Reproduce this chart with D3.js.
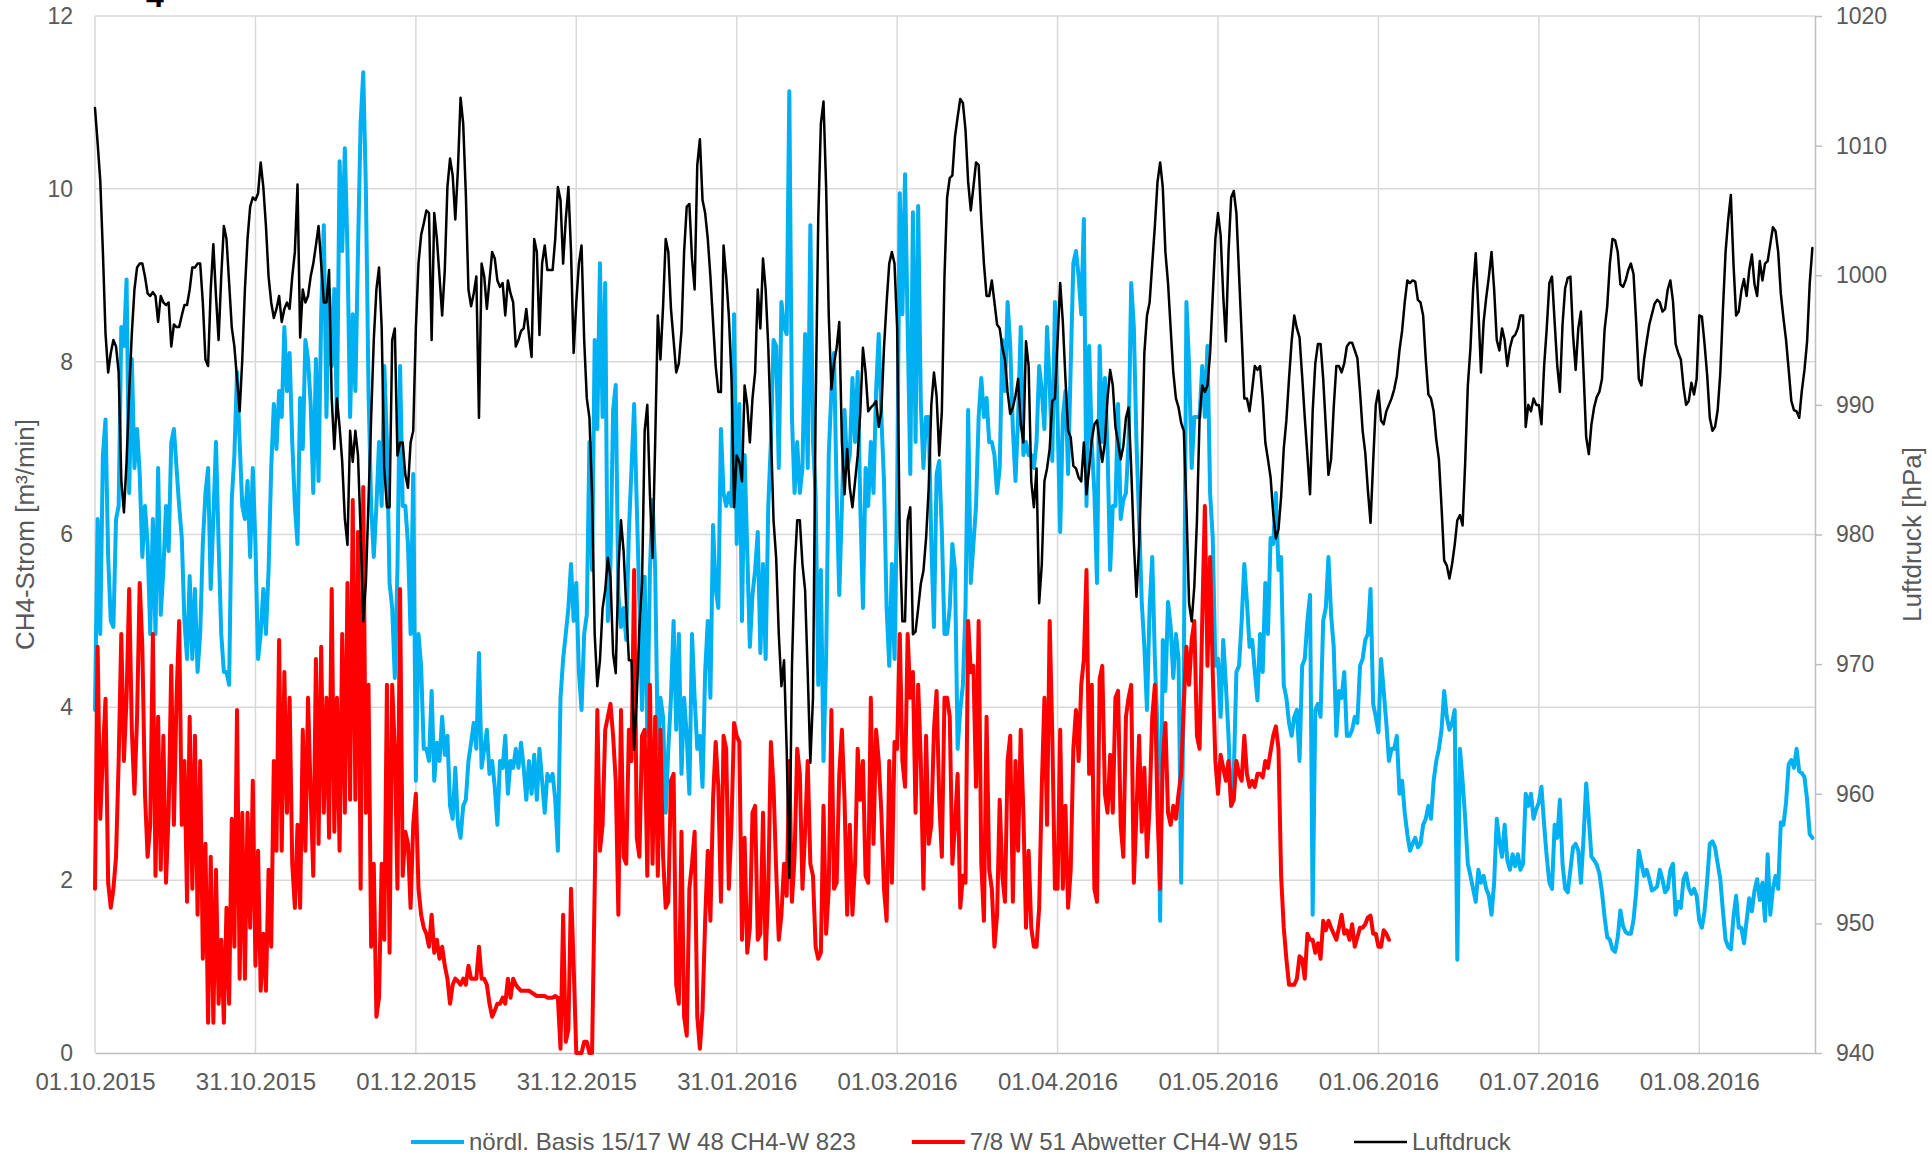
<!DOCTYPE html>
<html>
<head>
<meta charset="utf-8">
<script src="https://cdn.jsdelivr.net/npm/d3@7"></script>
<style>
  html, body { margin: 0; padding: 0; background: #ffffff; }
  svg { display: block; font-family: "Liberation Sans", Arial, Helvetica, sans-serif; }
</style>
</head>
<body>
<svg id="chart" width="1932" height="1154"></svg>
<script>
// ---- Time base: readings every half day starting 01.10.2015 ----
const DAY = 864e5;
const startDate = Date.UTC(2015, 9, 1);
const stepDays = 0.5;
const axisEndDays = 327;

// ---- Axis ticks ----
const xTickLabels = ["01.10.2015", "31.10.2015", "01.12.2015", "31.12.2015", "31.01.2016",
  "01.03.2016", "01.04.2016", "01.05.2016", "01.06.2016", "01.07.2016", "01.08.2016"];
const xTickStepDays = 30.5;
const leftTicks = [0, 2, 4, 6, 8, 10, 12];
const rightTicks = [940, 950, 960, 970, 980, 990, 1000, 1010, 1020];

// ---- Series names / colours ----
const seriesNames = ["nördl. Basis 15/17 W 48 CH4-W 823", "7/8 W 51 Abwetter CH4-W 915", "Luftdruck"];
const seriesColors = ["#00b0f0", "#ff0000", "#000000"];

// ---- CH4 flow, nördl. Basis 15/17 W 48 [m³/min] ----
const blueValues = [
  3.97, 6.18, 4.85, 6.92, 7.33, 5.74, 5.0, 4.93, 6.18, 6.33,
  8.4, 8.18, 8.95, 6.48, 8.03, 6.77, 7.22, 6.7, 5.74, 6.33,
  5.89, 4.85, 6.18, 4.85, 6.77, 5.07, 5.59, 6.33, 5.81, 7.07,
  7.22, 6.77, 6.33, 5.96, 5.0, 4.56, 5.52, 4.56, 5.37, 4.41,
  4.85, 5.9, 6.48, 6.77, 5.37, 6.18, 7.07, 5.89, 4.85, 4.41,
  4.41, 4.26, 6.4, 6.92, 7.88, 7.07, 6.33, 6.18, 6.62, 5.74,
  6.77, 5.89, 4.56, 4.85, 5.37, 4.85, 5.59, 6.77, 7.51, 6.99,
  7.66, 7.36, 8.4, 7.66, 8.1, 7.07, 6.33, 5.89, 7.58, 6.99,
  8.25, 8.03, 7.51, 6.48, 8.03, 6.62, 8.55, 9.58, 7.36, 8.84,
  7.95, 8.84, 7.36, 10.32, 9.28, 10.47, 9.28, 7.36, 8.55, 7.66,
  9.28, 10.76, 11.35, 10.0, 7.66, 6.33, 5.74, 6.33, 7.07, 6.33,
  7.95, 7.07, 5.44,
  5.15, 4.34, 5.59, 7.95, 6.33, 6.33, 5.89, 4.85, 6.7, 3.15,
  4.85, 4.48, 3.52, 3.52, 3.38, 4.19, 3.15, 3.59, 3.38, 3.89,
  3.45, 3.67, 2.86, 2.71, 3.3, 2.64, 2.49, 2.86, 2.93, 3.38,
  3.59, 3.82, 3.52, 4.63, 3.3, 3.52, 3.74, 3.23, 3.38, 3.08,
  2.64, 3.38, 3.3, 3.67, 3.0, 3.38, 3.3, 3.52, 3.3, 3.59,
  3.3, 2.93, 3.38, 3.0, 3.45, 2.93, 3.52, 3.15, 2.78, 3.23,
  3.15, 3.23, 2.93, 2.34, 4.11, 4.56, 4.85, 5.15, 5.66, 5.0,
  5.44, 4.41, 3.97, 4.85, 5.07, 7.07, 5.59, 8.25, 7.22, 9.14,
  7.36, 8.91, 5.0, 5.66, 7.44, 7.73, 5.3, 4.93, 5.15, 4.78,
  6.03, 6.77, 7.51, 6.33, 5.22, 3.97, 5.51, 3.67, 5.59, 6.4,
  5.59, 3.52, 4.11, 3.89, 2.78, 3.52, 4.11, 5.0, 3.74, 4.85,
  3.23, 4.11, 3.67, 3.0, 4.85, 4.11, 3.52, 3.67, 3.08, 4.41,
  5.0, 4.11, 6.11, 5.37, 5.15, 7.22, 6.48, 6.33, 6.48, 6.33,
  8.55, 5.89, 7.51, 5.0, 6.92, 5.81, 4.7, 5.3, 5.59, 6.03,
  4.63, 5.66, 4.56, 6.33, 7.07, 8.25, 8.18, 6.77, 8.69, 8.4,
  8.32, 11.13, 7.36, 6.48, 7.07, 6.48, 6.77, 8.32, 6.77, 9.58,
  7.07, 6.48, 4.26, 5.59, 3.38, 4.56, 6.92, 7.66, 8.1, 6.48,
  5.3, 6.33, 7.44, 6.77, 6.92, 7.81, 7.07, 7.88, 6.33, 5.15,
  6.77, 6.33, 7.07, 6.48, 7.66, 8.32, 7.36, 6.62, 5.15, 4.48,
  5.66, 4.56, 6.48, 9.95, 8.55, 10.17, 8.4, 6.7, 9.73, 7.07,
  9.8, 7.51, 6.77, 7.36, 7.36, 5.89, 4.93, 6.7, 6.85, 6.03,
  4.85, 4.85, 5.15, 5.89, 5.59, 3.52, 3.97, 4.26, 5.15, 7.44,
  5.44, 5.89, 6.33, 7.36, 7.81, 7.36, 7.58, 7.07, 7.07, 6.92,
  6.48, 6.77, 8.25, 7.66, 8.69, 8.18, 7.22, 6.62, 7.36, 8.4,
  6.92, 7.07, 6.92, 6.92, 6.77, 7.07, 7.95, 7.66, 7.22, 8.4,
  7.73, 6.85, 8.69, 7.36, 6.03, 7.36, 7.66, 6.7, 7.95, 9.14,
  9.28, 8.99, 8.55, 9.65, 6.33, 8.18, 7.07, 6.48, 5.44, 8.18,
  7.07, 7.81, 6.99, 5.59, 6.33, 6.33, 7.51, 6.18, 6.4, 6.48,
  7.07, 8.91, 8.4, 7.07, 6.18, 5.22, 4.7, 3.97, 5.15, 5.74,
  4.56, 3.74, 1.53, 4.78, 4.19, 5.22, 4.93, 4.34, 4.85, 4.56,
  1.97, 4.41, 8.69, 7.95, 6.77, 7.36, 7.36, 7.36, 7.95, 7.36,
  8.18, 6.48, 5.96, 4.48, 4.56, 3.89, 4.78, 4.26, 3.67, 2.86,
  3.23, 4.41, 4.48, 5.0, 5.66, 5.22, 4.7, 4.78, 4.41, 4.08,
  4.85, 4.41, 5.44, 4.85, 5.96, 5.89, 6.48, 5.59, 5.74, 4.26,
  4.11, 3.82, 3.67, 3.89, 3.97, 3.38, 4.48, 4.56, 5.0, 5.3,
  1.6, 3.97, 4.04, 3.89, 5.0, 5.15, 5.74, 5.07, 4.7, 3.67,
  4.19, 4.11, 4.41, 3.67, 3.67, 3.74, 3.89, 3.82, 4.48, 4.56,
  4.78, 4.85, 5.37, 4.04, 3.89, 3.71, 4.56, 4.19, 3.82, 3.38,
  3.52, 3.52, 3.67, 3.0, 3.15, 2.78, 2.53, 2.34, 2.42, 2.49,
  2.38, 2.42, 2.64, 2.71, 2.86, 2.71, 3.15, 3.38, 3.52, 3.74,
  4.19, 3.89, 3.74, 3.82, 3.97, 1.08, 3.52, 3.15, 2.71, 2.19,
  2.05, 1.9, 1.75, 2.12, 1.97, 2.05, 1.9, 1.82, 1.6, 1.97,
  2.71, 2.45, 2.27, 2.64, 2.23, 2.12, 2.3, 2.16, 2.3, 2.12,
  2.19, 3.0, 2.86, 3.0, 2.71, 2.82, 2.9, 3.08, 2.64, 2.27,
  1.97, 1.9, 2.64, 2.49, 2.93, 2.19, 1.9, 1.86, 2.12, 2.38,
  2.42, 2.34, 1.97, 2.49, 3.12, 2.71, 2.27, 2.23, 2.18, 2.08,
  1.86, 1.57, 1.34, 1.31, 1.2, 1.17, 1.34, 1.65, 1.47, 1.4,
  1.38, 1.38, 1.54, 1.86, 2.34, 2.19, 2.05, 2.12, 2.01, 1.88,
  1.9, 1.93, 2.12, 2.01, 1.86, 1.9, 2.12, 2.19, 1.6, 1.75,
  1.68, 2.01, 2.08, 1.91, 1.84, 1.9, 1.82, 1.53, 1.45, 1.64,
  1.99, 2.42, 2.45, 2.38, 2.19, 2.01, 1.64, 1.31, 1.23, 1.2,
  1.57, 1.82, 1.45, 1.45, 1.27, 1.53, 1.79, 1.64, 1.88, 2.01,
  1.77, 1.97, 1.53, 2.3, 1.6, 1.9, 2.05, 1.9, 2.67, 2.64,
  2.9, 3.34, 3.39, 3.3, 3.52, 3.26, 3.24, 3.19, 2.93, 2.53,
  2.49
];

// ---- CH4 flow, 7/8 W 51 Abwetter [m³/min] ----
const redValues = [
  1.9, 4.7, 2.71, 3.45, 4.1, 1.97, 1.68, 1.9, 2.27, 3.38,
  4.85, 3.38, 4.11, 5.37, 3.74, 3.0, 3.89, 5.44, 4.7, 3.0,
  2.27, 2.64, 4.85, 2.05, 3.89, 2.12, 3.67, 1.97, 2.78, 4.48,
  2.64, 4.11, 5.0, 2.64, 3.38, 1.75, 3.89, 1.9, 3.67, 1.6,
  3.38, 1.09, 2.42, 0.35, 2.27, 0.35, 2.12, 0.57, 1.31, 0.35,
  1.68, 0.57, 2.71, 1.23, 3.97, 0.86, 2.78, 0.86, 2.78, 1.45,
  3.15, 1.01, 2.34, 0.72, 1.38, 0.72, 2.12, 1.23, 3.38, 2.34,
  4.78, 2.34, 4.41, 2.78, 4.11, 2.19, 1.68, 2.64, 1.68, 3.74,
  2.34, 4.11, 3.0, 2.05, 4.56, 2.42, 4.7, 2.78, 4.11, 2.49,
  5.37, 2.56, 4.11, 2.34, 4.85, 2.78, 5.44, 2.93, 6.4, 2.93,
  6.03, 1.9, 6.55, 2.78, 4.26, 1.23, 2.19, 0.42, 0.64, 2.19,
  1.31, 4.26, 1.16,
  4.26, 3.52, 1.9, 5.37, 2.05, 2.56, 2.42, 1.68, 2.64, 3.0,
  1.9, 1.6, 1.45, 1.38, 1.23, 1.6, 1.16, 1.31, 1.09, 1.23,
  1.01, 0.86, 0.57, 0.79, 0.86, 0.83, 0.79, 0.86, 0.79, 1.01,
  0.86, 0.86, 0.86, 1.23, 0.86, 0.86, 0.79, 0.57, 0.42, 0.49,
  0.57, 0.57, 0.64, 0.57, 0.86, 0.64, 0.86, 0.79, 0.75, 0.72,
  0.72, 0.72, 0.72, 0.70, 0.68, 0.66, 0.66, 0.66, 0.66, 0.64,
  0.64, 0.64, 0.66, 0.64, 0.05, 1.6, 0.13, 0.27, 1.9, 1.01,
  0, 0, 0, 0.13, 0.13, 0, 0, 1.9, 3.97, 2.34,
  2.64, 3.74, 3.89, 4.04, 3.67, 3.15, 1.6, 3.97, 2.27, 2.19,
  3.74, 3.38, 5.59, 2.49, 2.27, 3.67, 3.74, 2.05, 4.26, 2.19,
  3.89, 2.05, 3.74, 2.27, 1.68, 1.75, 3.15, 3.23, 0.79, 0.57,
  2.56, 0.42, 0.2, 1.9, 2.19, 2.56, 0.42, 0.05, 0.49, 1.53,
  2.34, 1.53, 2.93, 3.6, 3.08, 1.75, 3.67, 3.52, 1.9, 2.64,
  3.82, 3.67, 3.6, 1.31, 2.49, 1.16, 1.45, 2.78, 2.86, 1.31,
  1.38, 2.78, 1.09, 1.9, 3.6, 3.08, 2.12, 1.31, 1.6, 2.19,
  1.82, 3.38, 1.75, 2.27, 3.52, 3.23, 1.9, 2.56, 3.38, 2.19,
  2.05, 1.23, 1.09, 1.16, 2.86, 1.38, 1.9, 3.97, 1.9, 1.97,
  3.23, 3.74, 2.93, 1.6, 2.64, 1.6, 2.19, 3.52, 2.93, 3.38,
  2.05, 1.97, 4.11, 2.42, 3.74, 3.38, 2.78, 1.9, 1.53, 3.38,
  1.97, 3.6, 3.52, 4.85, 3.38, 3.08, 4.85, 4.11, 4.41, 2.78,
  4.26, 3.38, 1.9, 3.67, 2.42, 2.64, 3.74, 4.19, 2.93, 2.27,
  4.11, 4.11, 3.89, 2.19, 2.64, 3.23, 1.68, 2.05, 1.97, 5.0,
  4.41, 4.48, 3.08, 5.0, 2.19, 1.53, 3.89, 2.12, 1.9, 1.23,
  1.6, 2.93, 2.05, 1.75, 3.38, 3.67, 1.75, 3.38, 2.34, 3.74,
  2.78, 1.45, 2.34, 1.45, 1.23, 1.23, 1.68, 3.08, 4.11, 2.64,
  5.0, 3.67, 1.9, 1.9, 3.74, 1.9, 2.86, 1.68, 2.12, 3.52,
  3.97, 3.38, 4.26, 4.56, 5.59, 3.23, 4.26, 1.9, 1.75, 4.33,
  4.48, 3.0, 2.78, 3.45, 2.78, 4.11, 4.19, 2.64, 2.27, 3.89,
  4.11, 4.26, 1.97, 2.78, 3.67, 2.56, 3.3, 2.27, 2.86, 3.89,
  4.26, 2.78, 1.9, 3.38, 3.82, 2.78, 2.64, 2.86, 2.71, 3.0,
  3.23, 4.04, 4.7, 4.26, 4.78, 5.0, 3.67, 3.52, 5.0, 6.33,
  4.48, 5.74, 4.41, 3.38, 3.0, 3.45, 3.3, 3.15, 3.38, 2.86,
  2.93, 3.38, 3.23, 3.15, 3.67, 3.23, 3.08, 3.15, 3.08, 3.23,
  3.23, 3.19, 3.38, 3.3, 3.49, 3.67, 3.78, 3.52, 2.05, 1.45,
  1.09, 0.79, 0.79, 0.79, 0.86, 1.12, 1.09, 0.86, 1.38, 1.31,
  1.31, 1.16, 1.27, 1.09, 1.53, 1.42, 1.53, 1.45, 1.38, 1.31,
  1.45, 1.6, 1.38, 1.42, 1.31, 1.49, 1.23, 1.34, 1.45, 1.45,
  1.49, 1.57, 1.59, 1.38, 1.38, 1.23, 1.23, 1.42, 1.38, 1.31
];

// ---- Air pressure [hPa] ----
const pressureValues = [
  1012.9, 1010.2, 1007.3, 1001.8, 995.5, 992.5, 994.0, 995.0, 994.5, 992.5,
  984.2, 981.7, 985.6, 991.0, 995.5, 998.9, 1000.6, 1000.9, 1000.9, 999.9,
  998.6, 998.4, 998.7, 998.4, 996.4, 998.4, 997.9, 997.7, 997.9, 994.5,
  996.2, 996.0, 996.0, 996.9, 997.7, 997.7, 998.9, 1000.6, 1000.6, 1000.9,
  1000.9, 997.9, 993.5, 993.0, 998.9, 1002.4, 998.4, 995.0, 999.9, 1003.8,
  1002.8, 999.4, 996.0, 994.5, 992.0, 989.5, 993.5, 998.9, 1002.8, 1005.3,
  1006.0, 1005.8, 1006.3, 1008.7, 1006.8, 1003.8, 999.9, 997.9, 996.7, 997.4,
  998.4, 996.4, 997.4, 997.9, 997.4, 999.9, 1001.8, 1007.0, 995.2, 998.9,
  997.9, 998.4, 999.9, 1000.9, 1002.3, 1003.8, 1000.9, 997.9, 997.9, 1000.4,
  990.5, 986.6, 990.5, 988.3, 985.6, 981.2, 979.2, 988.0, 985.6, 988.0,
  986.1, 980.2, 973.3, 976.3, 982.6, 989.0, 995.0, 998.9, 1000.6, 996.0,
  985.1, 982.1, 982.1,
  995.0, 995.9, 986.1, 987.1, 987.1, 984.6, 983.6, 987.1, 988.0, 995.9,
  1000.9, 1003.1, 1004.0, 1005.0, 1004.8, 995.0, 1004.8, 1002.8, 999.9, 996.9,
  1000.4, 1006.8, 1009.0, 1007.7, 1004.3, 1008.2, 1013.7, 1011.7, 1006.3, 998.9,
  997.6, 998.6, 999.9, 989.0, 1000.9, 999.9, 997.4, 999.6, 1001.8, 1001.3,
  999.6, 999.1, 999.4, 996.9, 999.6, 998.6, 997.9, 994.5, 995.0, 995.7,
  995.9, 997.4, 995.4, 993.7, 1002.8, 1001.8, 995.4, 1000.9, 1002.3, 1000.4,
  1000.4, 1000.4, 1002.8, 1006.8, 1005.8, 1000.9, 1004.3, 1006.8, 1001.8, 994.0,
  997.9, 1000.9, 1002.3, 995.0, 990.5, 989.0, 983.1, 972.3, 968.3, 970.3,
  974.3, 975.7, 978.2, 976.7, 970.8, 969.3, 977.2, 981.1, 978.7, 974.3,
  970.3, 970.3, 963.4, 967.4, 972.8, 976.2, 988.0, 990.0, 983.1, 978.2,
  987.1, 996.9, 993.5, 997.6, 1002.8, 1001.8, 997.4, 995.0, 992.5, 993.2,
  995.7, 1001.8, 1005.3, 1005.5, 1001.3, 998.9, 1008.5, 1010.5, 1005.8, 1004.8,
  1002.8, 999.9, 996.4, 993.0, 991.0, 991.0, 1002.3, 999.9, 996.9, 992.2,
  982.1, 986.1, 985.6, 984.1, 991.5, 990.0, 987.1, 990.5, 992.5, 998.9,
  995.9, 1001.3, 998.9, 994.5, 988.0, 981.1, 978.2, 972.3, 968.3, 970.3,
  963.4, 953.5, 969.8, 977.2, 981.1, 981.1, 977.7, 975.7, 969.3, 962.4,
  967.4, 989.5, 1004.3, 1011.7, 1013.4, 1006.8, 996.9, 991.2, 993.2, 994.4,
  996.4, 987.1, 983.1, 986.6, 983.6, 982.1, 984.1, 986.1, 989.5, 994.4,
  992.5, 989.5, 989.8, 990.0, 990.3, 988.3, 989.5, 994.4, 997.9, 1000.9,
  1001.8, 1000.9, 995.9, 979.7, 973.3, 973.3, 981.1, 982.1, 972.3, 972.5,
  974.3, 976.2, 977.2, 979.7, 983.6, 990.0, 992.5, 990.7, 986.1, 989.5,
  999.9, 1006.0, 1007.5, 1007.7, 1010.7, 1012.2, 1013.6, 1013.3, 1011.2, 1007.2,
  1005.0, 1006.8, 1008.7, 1008.5, 1004.3, 1000.9, 998.4, 998.4, 999.6, 997.9,
  996.2, 995.9, 994.4, 993.5, 991.0, 989.3, 989.8, 990.7, 992.0, 988.5,
  987.1, 994.9, 993.0, 984.1, 982.1, 985.1, 974.7, 977.7, 984.1, 985.1,
  986.6, 990.3, 990.5, 994.9, 999.4, 996.4, 992.0, 988.0, 987.5, 985.3,
  985.1, 984.4, 984.1, 987.1, 983.1, 985.1, 987.3, 988.5, 988.8, 987.1,
  985.6, 987.1, 990.5, 992.7, 991.5, 988.3, 987.1, 985.8, 986.8, 989.0,
  989.8, 985.1, 979.4, 975.2, 979.2, 985.6, 994.0, 996.9, 997.9, 1000.9,
  1003.8, 1007.2, 1008.7, 1006.8, 1001.8, 999.4, 995.9, 992.5, 990.5, 989.8,
  988.6, 988.0, 982.1, 974.7, 973.3, 976.0, 981.1, 989.0, 991.5, 991.0,
  991.5, 994.0, 998.4, 1002.8, 1004.8, 1003.1, 998.4, 994.9, 1001.8, 1006.0,
  1006.5, 1004.8, 1000.1, 995.4, 990.5, 990.5, 989.5, 991.2, 993.0, 992.7,
  993.0, 990.5, 987.1, 985.8, 984.4, 981.6, 979.7, 980.4, 982.9, 986.6,
  988.8, 992.0, 994.9, 996.9, 995.9, 995.2, 992.2, 989.0, 986.1, 983.1,
  989.5, 993.2, 994.7, 994.7, 992.0, 988.3, 984.6, 985.8, 989.8, 993.0,
  993.0, 992.5, 993.2, 994.5, 994.8, 994.8, 994.2, 993.6, 991.0, 988.0,
  986.3, 983.4, 980.9, 985.6, 990.0, 991.1, 988.8, 988.5, 989.5, 990.0,
  990.5, 991.2, 992.2, 994.2, 995.7, 997.9, 999.6, 999.4, 999.6, 999.5,
  998.1, 997.9, 996.9, 993.5, 990.8, 990.5, 989.5, 987.3, 985.8, 982.1,
  978.0, 977.6, 976.6, 977.7, 979.2, 981.1, 981.5, 980.7, 985.6, 991.5,
  994.4, 998.9, 1001.7, 997.4, 992.5, 996.4, 998.3, 999.9, 1001.8, 998.9,
  995.0, 994.2, 995.9, 995.0, 993.0, 994.4, 995.2, 995.4, 995.9, 996.9,
  996.9, 988.3, 990.0, 989.5, 990.5, 990.0, 990.0, 988.5, 993.0, 995.9,
  999.4, 999.9, 996.4, 993.0, 991.0, 996.2, 999.0, 999.8, 999.9, 995.4,
  992.7, 995.9, 997.2, 992.5, 987.5, 986.2, 988.5, 989.8, 990.6, 991.0,
  992.0, 995.8, 997.6, 1000.9, 1002.8, 1002.7, 1001.8, 999.3, 999.1, 999.6,
  1000.4, 1000.9, 1000.1, 996.4, 992.0, 991.5, 993.5, 994.9, 996.2, 997.0,
  997.8, 998.1, 997.9, 997.2, 997.4, 998.9, 999.6, 998.0, 994.7, 994.0,
  993.5, 991.4, 990.0, 990.3, 991.7, 990.8, 992.0, 996.9, 996.8, 994.7,
  992.3, 989.0, 988.0, 988.3, 989.6, 992.5, 997.4, 1001.8, 1004.3, 1006.2,
  1000.9, 996.9, 997.2, 998.8, 999.7, 998.4, 1000.4, 1001.6, 999.3, 998.4,
  1001.1, 999.6, 1000.9, 1001.1, 1002.4, 1003.7, 1003.4, 1001.8, 998.6, 996.7,
  995.0, 992.7, 990.3, 989.6, 989.5, 989.0, 991.1, 992.7, 994.9, 999.4,
  1002.1
];

// ---- Layout ----
const plot = { left: 95, right: 1815, top: 16, bottom: 1053 };
const textColor = "#595959";
const gridColor = "#d9d9d9";
const axisColor = "#bfbfbf";
const fontStack = "'Liberation Sans', Arial, sans-serif";

const svg = d3.select("#chart");

const x = d3.scaleUtc()
  .domain([new Date(startDate), new Date(startDate + axisEndDays * DAY)])
  .range([plot.left, plot.right]);
const yLeft = d3.scaleLinear().domain([0, 12]).range([plot.bottom, plot.top]);
const yRight = d3.scaleLinear().domain([940, 1020]).range([plot.bottom, plot.top]);

const tickDates = xTickLabels.map((_, i) => new Date(startDate + i * xTickStepDays * DAY));
const dateAt = i => new Date(startDate + i * stepDays * DAY);

// ---- Gridlines ----
const grid = svg.append("g").attr("class", "grid");
grid.selectAll("line.h").data(leftTicks.filter(v => v > 0)).join("line")
  .attr("class", "h")
  .attr("x1", plot.left).attr("x2", plot.right)
  .attr("y1", d => yLeft(d)).attr("y2", d => yLeft(d))
  .attr("stroke", gridColor).attr("stroke-width", 1.5);
grid.selectAll("line.v").data(tickDates).join("line")
  .attr("class", "v")
  .attr("x1", d => x(d)).attr("x2", d => x(d))
  .attr("y1", plot.top).attr("y2", plot.bottom)
  .attr("stroke", gridColor).attr("stroke-width", 1.5);

// ---- Axes ----
const xAxis = svg.append("g")
  .attr("transform", `translate(0,${plot.bottom})`)
  .call(d3.axisBottom(x).tickValues(tickDates).tickFormat((d, i) => xTickLabels[i])
    .tickSize(0).tickSizeOuter(0));
xAxis.select(".domain").attr("stroke", axisColor).attr("stroke-width", 1.5);
xAxis.selectAll("text")
  .attr("y", 37).attr("dy", 0)
  .attr("fill", textColor).style("font-size", "24px").style("font-family", fontStack);

const yAxisL = svg.append("g")
  .attr("transform", `translate(${plot.left},0)`)
  .call(d3.axisLeft(yLeft).tickValues(leftTicks).tickFormat(d3.format("d"))
    .tickSize(0).tickPadding(22));
yAxisL.select(".domain").remove();
yAxisL.selectAll("text")
  .attr("fill", textColor).style("font-size", "23px").style("font-family", fontStack);

const yAxisR = svg.append("g")
  .attr("transform", `translate(${plot.right},0)`)
  .call(d3.axisRight(yRight).tickValues(rightTicks).tickFormat(d3.format("d"))
    .tickSize(7).tickSizeOuter(0).tickPadding(14));
yAxisR.select(".domain").attr("stroke", axisColor).attr("stroke-width", 1.5);
yAxisR.selectAll(".tick line").attr("stroke", axisColor).attr("stroke-width", 1.5);
yAxisR.selectAll("text")
  .attr("fill", textColor).style("font-size", "23px").style("font-family", fontStack);

// ---- Axis titles ----
const midY = (plot.top + plot.bottom) / 2;
svg.append("text")
  .attr("transform", `translate(25,${midY}) rotate(-90)`)
  .attr("text-anchor", "middle").attr("dy", "0.35em")
  .attr("fill", textColor).style("font-size", "26px")
  .text("CH4-Strom [m³/min]");
svg.append("text")
  .attr("transform", `translate(1912,${midY}) rotate(-90)`)
  .attr("text-anchor", "middle").attr("dy", "0.35em")
  .attr("fill", textColor).style("font-size", "26px")
  .text("Luftdruck [hPa]");

// ---- Title fragment above the plot ----
svg.append("text")
  .attr("x", 146).attr("y", 6.5)
  .attr("fill", "#000").style("font-size", "32px").style("font-weight", "bold")
  .text("4");

// ---- Series lines ----
const lineL = d3.line().x((d, i) => x(dateAt(i))).y(d => yLeft(d));
const lineR = d3.line().x((d, i) => x(dateAt(i))).y(d => yRight(d));

const series = svg.append("g").attr("class", "series")
  .attr("fill", "none").attr("stroke-linejoin", "round").attr("stroke-linecap", "round");
series.append("path").datum(blueValues)
  .attr("d", lineL).attr("stroke", seriesColors[0]).attr("stroke-width", 4);
series.append("path").datum(redValues)
  .attr("d", lineL).attr("stroke", seriesColors[1]).attr("stroke-width", 4);
series.append("path").datum(pressureValues)
  .attr("d", lineR).attr("stroke", seriesColors[2]).attr("stroke-width", 2.5);

// ---- Legend ----
const legendWidths = [4, 4, 2.5];
const legend = svg.append("g").attr("class", "legend");
let lx = 411;
const ly = 1142;
seriesNames.forEach((name, i) => {
  legend.append("line")
    .attr("x1", lx).attr("x2", lx + 53).attr("y1", ly).attr("y2", ly)
    .attr("stroke", seriesColors[i]).attr("stroke-width", legendWidths[i]);
  const t = legend.append("text")
    .attr("x", lx + 58).attr("y", ly).attr("dy", "0.35em")
    .attr("fill", textColor).style("font-size", "24px")
    .text(name);
  lx += 58 + t.node().getComputedTextLength() + 56;
});
</script>
</body>
</html>
